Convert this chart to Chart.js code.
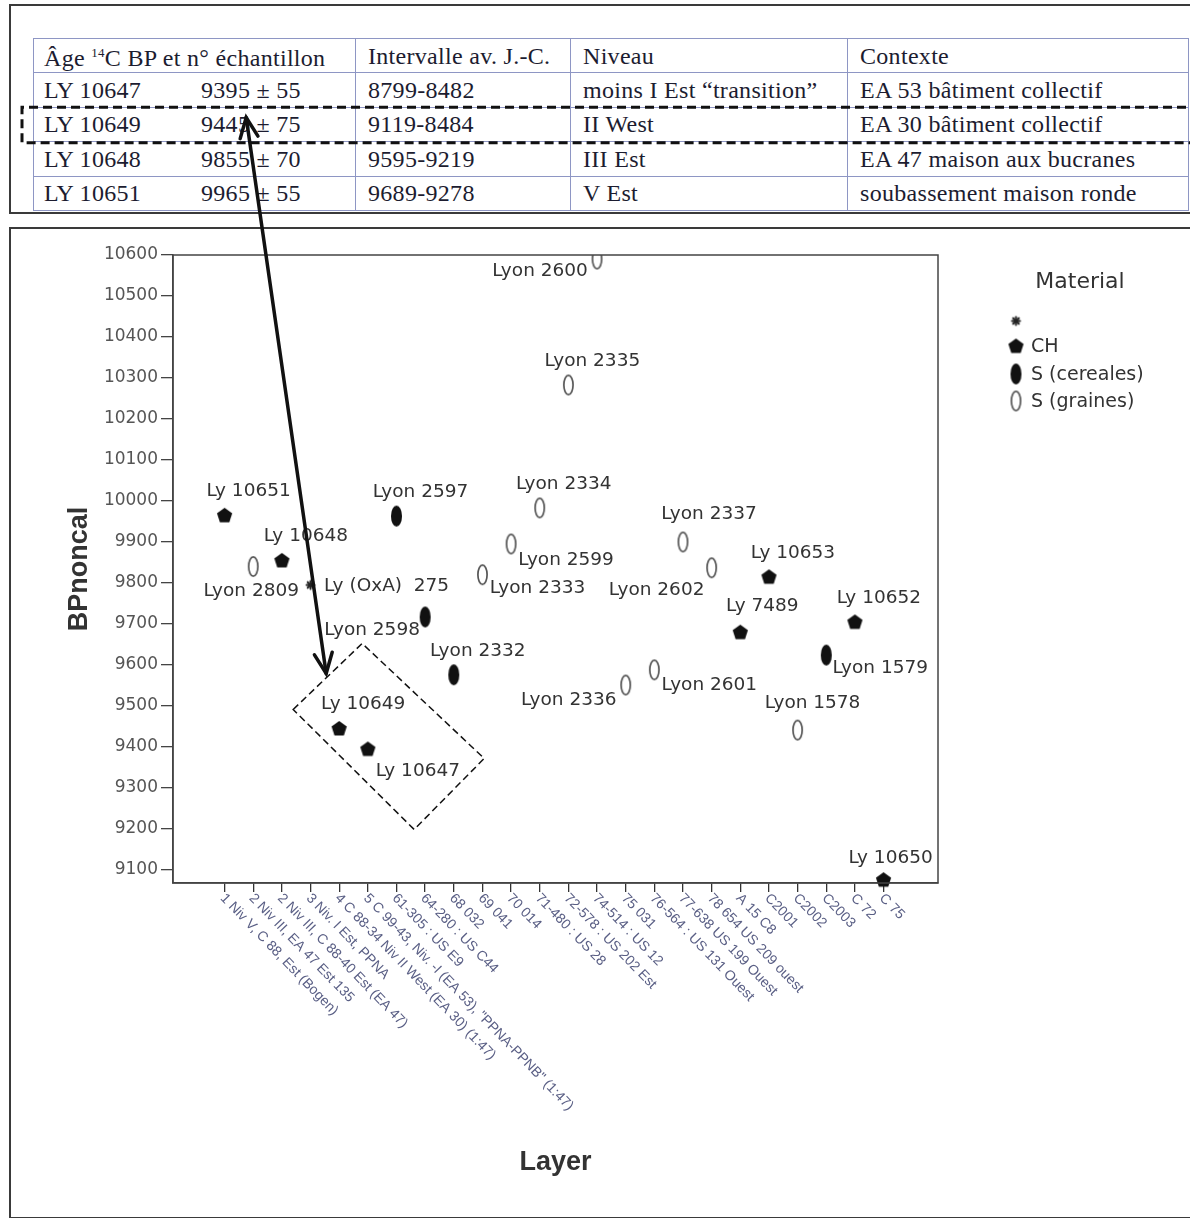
<!DOCTYPE html>
<html><head><meta charset="utf-8">
<script src="https://cdn.jsdelivr.net/npm/chart.js@4.4.1/dist/chart.umd.min.js"></script>
<style>
html,body{margin:0;padding:0;width:1190px;height:1218px;overflow:hidden;background:#fff;}
#topPanel{position:absolute;left:9px;top:4px;width:1210px;height:210px;border:2px solid #3a3a3a;box-sizing:border-box;}
#botPanel{position:absolute;left:9px;top:227px;width:1210px;height:992px;border:2px solid #3a3a3a;box-sizing:border-box;}
table{position:absolute;left:33px;top:38px;width:1155px;table-layout:fixed;border-collapse:collapse;font-family:"Liberation Serif","Times New Roman",serif;font-size:24px;letter-spacing:0.3px;color:#1c1c30;}
td{border:1.5px solid #8e96c4;padding:0 0 0 12px;white-space:nowrap;overflow:hidden;line-height:26px;}
tr{height:34.4px;}
td.c1{padding-left:10px;}
span.id{display:inline-block;width:157px;}
#chartWrap{position:absolute;left:0;top:0;width:1190px;height:1218px;z-index:5;pointer-events:none;}
</style></head>
<body>
<div id="topPanel"></div>
<div id="botPanel"></div>
<table id="tbl">
<colgroup><col style="width:322px"><col style="width:215px"><col style="width:277px"><col style="width:341px"></colgroup>
<tr><td class="c1">Âge <sup style="font-size:13px">14</sup>C BP et n° échantillon</td><td>Intervalle av. J.-C.</td><td>Niveau</td><td>Contexte</td></tr>
<tr><td class="c1"><span class="id">LY 10647</span>9395 ± 55</td><td>8799-8482</td><td>moins I Est “transition”</td><td>EA 53 bâtiment collectif</td></tr>
<tr id="row2"><td class="c1"><span class="id">LY 10649</span><span id="val9445">9445</span> ± 75</td><td>9119-8484</td><td>II West</td><td>EA 30 bâtiment collectif</td></tr>
<tr><td class="c1"><span class="id">LY 10648</span>9855 ± 70</td><td>9595-9219</td><td>III Est</td><td>EA 47 maison aux bucranes</td></tr>
<tr><td class="c1"><span class="id">LY 10651</span>9965 ± 55</td><td>9689-9278</td><td>V Est</td><td>soubassement maison ronde</td></tr>
</table>
<div id="chartWrap"><canvas id="c" width="1190" height="1218"></canvas></div>
<script>
// ---------- DATA ----------
const layers = [
  "1 Niv V, C 88, Est (Bogen)",
  "2 Niv III, EA 47 Est 135",
  "2 Niv III, C 88-40 Est (EA 47)",
  "3 Niv. I Est, PPNA",
  "4 C 88-34 Niv II West (EA 30) (1:47)",
  "5 C 99-43, Niv. -I (EA 53), \"PPNA-PPNB\" (1:47)",
  "61-305 : US E9",
  "64-280 : US C44",
  "68 032",
  "69 041",
  "70 014",
  "71-480 : US 28",
  "72-578 : US 202 Est",
  "74-514 : US 12",
  "75 031",
  "76-564 : US 131 Ouest",
  "77-638 US 199 Ouest",
  "78 654 US 209 ouest",
  "A 15 C8",
  "C2001",
  "C2002",
  "C2003",
  "C 72",
  "C 75"
];
const sampleNames = ["Ly 10651","Lyon 2809","Ly 10648","Ly (OxA)  275","Ly 10649","Ly 10647","Lyon 2597","Lyon 2598",
  "Lyon 2332","Lyon 2333","Lyon 2599","Lyon 2334","Lyon 2335","Lyon 2600","Lyon 2336","Lyon 2601",
  "Lyon 2337","Lyon 2602","Ly 7489","Ly 10653","Lyon 1578","Lyon 1579","Ly 10652","Ly 10650"];
const sampleLayer = [0,1,2,3,4,5,6,7,8,9,10,11,12,13,14,15,16,17,18,19,20,21,22,23];
const sampleBP = [9965,9840,9855,9795,9445,9395,9963,9717,9576,9820,9895,9983,10283,10590,9551,9588,9900,9837,9680,9815,9441,9624,9705,9076];
const sampleMaterial = ["CH","S (graines)","CH","","CH","CH","S (cereales)","S (cereales)","S (cereales)","S (graines)","S (graines)","S (graines)",
  "S (graines)","S (graines)","S (graines)","S (graines)","S (graines)","S (graines)","CH","CH","S (graines)","S (cereales)","CH","CH"];
const materials = ["","CH","S (cereales)","S (graines)"];
const yTickValues = [9100,9200,9300,9400,9500,9600,9700,9800,9900,10000,10100,10200,10300,10400,10500,10600];

// ---------- STYLE ----------
const FONT = '"DejaVu Sans", Verdana, sans-serif';
const labelOffsetDefault = [24,-24];
const labelOffsets = {
  "Lyon 2809":[-2,25], "Ly (OxA)  275":[76,1], "Lyon 2598":[-53,13], "Ly 10647":[50,22],
  "Lyon 2600":[-57,12], "Lyon 2599":[55,16], "Lyon 2333":[55,13], "Lyon 2602":[-55,22],
  "Lyon 2336":[-57,15], "Lyon 2601":[55,15], "Lyon 1579":[54,13], "Lyon 1578":[15,-27],
  "Ly 10650":[7,-22], "Lyon 2337":[26,-28], "Ly 7489":[22,-26]
};

function mkCanvas(w,h){const c=document.createElement('canvas');c.width=w;c.height=h;return c;}
function mkPentagon(){
  const c=mkCanvas(17,17), g=c.getContext('2d'); g.fillStyle='#111'; g.beginPath();
  const r=8, cx=8.5, cy=9;
  for(let k=0;k<5;k++){const a=-Math.PI/2+k*2*Math.PI/5; const x=cx+r*Math.cos(a), y=cy+r*Math.sin(a); k?g.lineTo(x,y):g.moveTo(x,y);}
  g.closePath(); g.fill(); return c;
}
function mkFilledEllipse(){
  const c=mkCanvas(13,23), g=c.getContext('2d'); g.fillStyle='#111'; g.beginPath();
  g.ellipse(6.5,11.5,5.5,10.5,0,0,Math.PI*2); g.fill(); return c;
}
function mkOpenEllipse(){
  const c=mkCanvas(13,23), g=c.getContext('2d'); g.strokeStyle='#555'; g.lineWidth=1.7; g.beginPath();
  g.ellipse(6.5,11.5,4.6,9.6,0,0,Math.PI*2); g.stroke(); return c;
}
function mkAsterisk(){
  const c=mkCanvas(13,13), g=c.getContext('2d'); g.strokeStyle='#222'; g.lineWidth=2; g.lineCap='round';
  for(let k=0;k<4;k++){const a=k*Math.PI/4; g.beginPath(); g.moveTo(6.5-4*Math.cos(a),6.5-4*Math.sin(a)); g.lineTo(6.5+4*Math.cos(a),6.5+4*Math.sin(a)); g.stroke();}
  return c;
}
const markerImg = {"":mkAsterisk(), "CH":mkPentagon(), "S (cereales)":mkFilledEllipse(), "S (graines)":mkOpenEllipse()};

const datasets = materials.map(m => ({
  label: m,
  data: sampleNames.map((n,i)=>i).filter(i=>sampleMaterial[i]===m).map(i=>({x:sampleLayer[i], y:sampleBP[i], name:sampleNames[i]})),
  pointStyle: markerImg[m], pointRadius: 7, pointHoverRadius: 7,
  clip: m==="CH" ? false : undefined
}));

const annot = {
  id:'annot',
  afterDraw(chart){
    const ctx=chart.ctx, ca=chart.chartArea, xs=chart.scales.x, ys=chart.scales.y;
    ctx.save();
    // frame
    ctx.strokeStyle='#444'; ctx.lineWidth=1.5; ctx.strokeRect(ca.left, ca.top, ca.right-ca.left, ca.bottom-ca.top);
    // point labels
    ctx.font='18.5px '+FONT; ctx.fillStyle='#333'; ctx.textAlign='center'; ctx.textBaseline='middle';
    chart.data.datasets.forEach((ds,di)=>{
      const meta=chart.getDatasetMeta(di);
      ds.data.forEach((d,i)=>{
        const el=meta.data[i]; const o=labelOffsets[d.name]||labelOffsetDefault;
        ctx.fillText(d.name, el.x+o[0], el.y+o[1]);
      });
    });
    // x labels rotated
    ctx.font='14px "Liberation Sans", Arial, sans-serif'; ctx.fillStyle='#5a5f85'; ctx.textAlign='left'; ctx.textBaseline='middle';
    layers.forEach((lab,i)=>{
      const px=xs.getPixelForValue(i);
      ctx.save(); ctx.translate(px-2, ca.bottom+13); ctx.rotate(46*Math.PI/180); ctx.fillText(lab,0,0); ctx.restore();
    });
    // axis titles
    ctx.fillStyle='#333'; ctx.font='bold 27px "Liberation Sans", Arial, sans-serif'; ctx.textAlign='center'; ctx.textBaseline='middle';
    ctx.fillText('Layer', (ca.left+ca.right)/2, 1163);
    ctx.save(); ctx.translate(80,(ca.top+ca.bottom)/2); ctx.rotate(-Math.PI/2); ctx.fillText('BPnoncal',0,0); ctx.restore();
    // legend
    ctx.font='22px '+FONT; ctx.fillStyle='#333'; ctx.fillText('Material',1080,282);
    ctx.font='19px '+FONT; ctx.textAlign='left';
    const legY=[321,346,374,401];
    materials.forEach((m,k)=>{
      const img=markerImg[m]; ctx.drawImage(img, 1016-img.width/2, legY[k]-img.height/2);
      if(m) ctx.fillText(m,1031,legY[k]+1);
    });
    // dashed box around Ly 10649 / Ly 10647
    const p49 = {x:xs.getPixelForValue(sampleLayer[4]), y:ys.getPixelForValue(sampleBP[4])};
    const corners=[[-46,-19],[23,-85],[145,30],[75,101]];
    ctx.setLineDash([7,4]); ctx.lineWidth=1.5; ctx.strokeStyle='#111'; ctx.beginPath();
    corners.forEach((c,k)=>{k?ctx.lineTo(p49.x+c[0],p49.y+c[1]):ctx.moveTo(p49.x+c[0],p49.y+c[1]);});
    ctx.closePath(); ctx.stroke();
    // dashed box around table row 2
    const r2=document.getElementById('row2').getBoundingClientRect();
    ctx.setLineDash([9,5]); ctx.lineWidth=3; ctx.beginPath();
    ctx.moveTo(1200, r2.top); ctx.lineTo(22, r2.top); ctx.lineTo(22, r2.bottom+1); ctx.lineTo(1200, r2.bottom+1); ctx.stroke();
    ctx.setLineDash([]);
    // double arrow
    const v=document.getElementById('val9445').getBoundingClientRect();
    const a1={x:v.right-4, y:v.top+6}, a2={x:p49.x-13, y:p49.y-55};
    ctx.lineWidth=3.5; ctx.strokeStyle='#111'; ctx.lineCap='round';
    ctx.beginPath(); ctx.moveTo(a1.x,a1.y); ctx.lineTo(a2.x,a2.y); ctx.stroke();
    function head(tip, from){
      const ang=Math.atan2(tip.y-from.y, tip.x-from.x), L=22, sp=0.42;
      ctx.beginPath();
      ctx.moveTo(tip.x-L*Math.cos(ang-sp), tip.y-L*Math.sin(ang-sp)); ctx.lineTo(tip.x,tip.y);
      ctx.lineTo(tip.x-L*Math.cos(ang+sp), tip.y-L*Math.sin(ang+sp)); ctx.stroke();
    }
    head(a1,a2); head(a2,a1);
    ctx.restore();
  }
};

Chart.defaults.font.family = FONT;
new Chart(document.getElementById('c'), {
  type:'scatter',
  data:{datasets},
  options:{
    responsive:false, animation:false,
    layout:{padding:{top:255,left:0,right:252,bottom:0}},
    plugins:{legend:{display:false}, tooltip:{enabled:false}},
    scales:{
      x:{type:'linear', min:-1.8, max:24.9,
        afterBuildTicks:s=>{s.ticks=layers.map((l,i)=>({value:i}));},
        afterFit:s=>{s.height=335;},
        ticks:{display:false},
        grid:{drawOnChartArea:false, drawTicks:true, tickLength:9, color:'#333', lineWidth:1.3},
        border:{display:true, color:'#444', width:1.5}
      },
      y:{type:'linear', min:9068, max:10600,
        afterBuildTicks:s=>{s.ticks=yTickValues.map(v=>({value:v}));},
        afterFit:s=>{s.width=173;},
        ticks:{font:{size:17, family:FONT}, color:'#555', padding:3, callback:v=>String(v)},
        grid:{drawOnChartArea:false, drawTicks:true, tickLength:12, color:'#444', lineWidth:1.3},
        border:{display:true, color:'#444', width:1.5}
      }
    }
  },
  plugins:[annot]
});
</script>
</body></html>
